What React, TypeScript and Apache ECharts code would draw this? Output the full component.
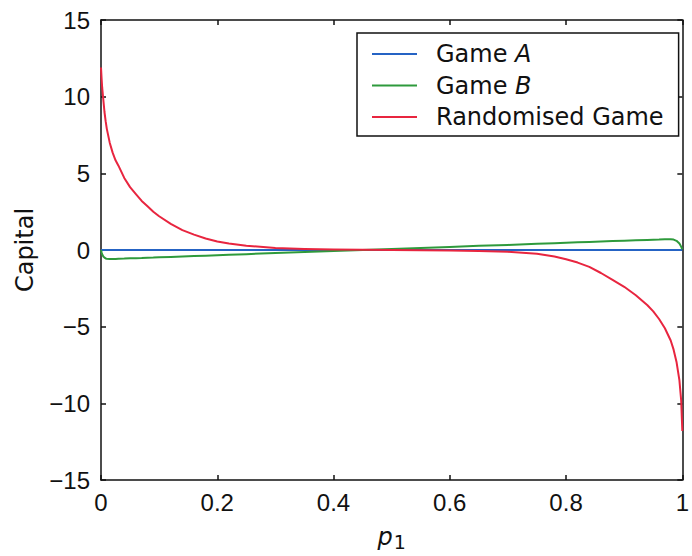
import React, { useEffect, useRef } from "react";
import * as echarts from "echarts";

const pValues = [0, 0.001, 0.002, 0.004, 0.006, 0.008, 0.01, 0.015, 0.02, 0.025, 0.03, 0.04, 0.05, 0.06, 0.07, 0.08, 0.09, 0.1, 0.12, 0.14, 0.16, 0.18, 0.2, 0.22, 0.25, 0.3, 0.35, 0.4, 0.45, 0.5, 0.55, 0.6, 0.65, 0.7, 0.75, 0.78, 0.8, 0.82, 0.84, 0.86, 0.88, 0.9, 0.92, 0.94, 0.95, 0.96, 0.97, 0.98, 0.985, 0.99, 0.995, 0.998, 1];

const gameA = [0, 0, 0, 0, 0, 0, 0, 0, 0, 0, 0, 0, 0, 0, 0, 0, 0, 0, 0, 0, 0, 0, 0, 0, 0, 0, 0, 0, 0, 0, 0, 0, 0, 0, 0, 0, 0, 0, 0, 0, 0, 0, 0, 0, 0, 0, 0, 0, 0, 0, 0, 0, 0];

const gameB = [0, -0.15, -0.28, -0.42, -0.5, -0.55, -0.57, -0.59, -0.58, -0.58, -0.57, -0.56, -0.54, -0.53, -0.52, -0.5, -0.49, -0.47, -0.45, -0.42, -0.39, -0.37, -0.34, -0.31, -0.27, -0.2, -0.13, -0.07, 0, 0.06, 0.13, 0.2, 0.27, 0.33, 0.4, 0.44, 0.47, 0.5, 0.52, 0.55, 0.58, 0.6, 0.63, 0.66, 0.67, 0.68, 0.7, 0.7, 0.68, 0.6, 0.42, 0.22, 0.05];

const randomised = [11.9, 11.2, 10.6, 9.8, 9.0, 8.4, 7.9, 7.0, 6.35, 5.85, 5.5, 4.7, 4.1, 3.65, 3.2, 2.85, 2.5, 2.2, 1.7, 1.3, 1.0, 0.75, 0.55, 0.42, 0.28, 0.13, 0.06, 0.03, 0.01, 0, -0.01, -0.03, -0.06, -0.12, -0.24, -0.42, -0.6, -0.82, -1.1, -1.5, -1.95, -2.4, -2.95, -3.6, -4.0, -4.5, -5.1, -5.9, -6.5, -7.3, -8.5, -9.8, -11.8];

const seriesNames = ["Game A", "Game B", "Randomised Game"];
const seriesColors = ["#2563c4", "#2e9a3c", "#e8253f"];
const xTicks = { min: 0, max: 1, interval: 0.2 };
const yTicks = { min: -15, max: 15, interval: 5 };

const pair = (ys: number[]) => pValues.map((p, i) => [p, ys[i]]);

export default function App() {
  const ref = useRef<HTMLDivElement>(null);
  useEffect(() => {
    if (!ref.current) return;
    const chart = echarts.init(ref.current, null, { renderer: "svg" });
    const tickFont = { fontFamily: "Liberation Sans", fontSize: 24, color: "#111" };
    const lineStyle = { color: "#111", width: 1.5 };
    const fmtX = (v: number) => (v === 0 ? "0" : v === 1 ? "1" : v.toFixed(1));
    const fmtY = (v: number) => (v < 0 ? "\u2212" + Math.abs(v) : String(v));
    const allData = [gameA, gameB, randomised];
    chart.setOption({
      animation: false,
      grid: { left: 101, top: 20, width: 589, height: 464, containLabel: false },
      legend: {
        show: true,
        orient: "vertical",
        left: 357,
        top: 33,
        padding: [9, 15, 7, 15],
        borderColor: "#111",
        borderWidth: 1.5,
        backgroundColor: "#fff",
        icon: "rect",
        itemWidth: 45,
        itemHeight: 2,
        itemGap: 7.5,
        data: seriesNames,
        textStyle: {
          fontFamily: "DejaVu Sans",
          fontSize: 24,
          lineHeight: 22,
          color: "#111",
          padding: [0, 0, 0, 14],
          rich: {
            i: { fontFamily: "DejaVu Sans", fontStyle: "italic", fontSize: 24, lineHeight: 22, color: "#111" },
          },
        },
        formatter: (name: string) =>
          name === "Game A" ? "Game {i|A}" : name === "Game B" ? "Game {i|B}" : name,
      },
      xAxis: [
        {
          type: "value",
          ...xTicks,
          position: "bottom",
          name: "{p|p}{s|1}",
          nameLocation: "middle",
          nameGap: 42,
          nameTextStyle: {
            rich: {
              p: { fontFamily: "DejaVu Sans", fontStyle: "italic", fontSize: 24, color: "#111" },
              s: { fontFamily: "DejaVu Sans", fontSize: 19, color: "#111", padding: [10, 0, 0, 1] },
            },
          },
          axisLine: { show: true, onZero: false, lineStyle },
          axisTick: { show: true, inside: true, length: 5, lineStyle },
          axisLabel: { ...tickFont, margin: 10, formatter: fmtX },
          splitLine: { show: false },
        },
        {
          type: "value",
          ...xTicks,
          position: "top",
          axisLine: { show: true, onZero: false, lineStyle },
          axisTick: { show: true, inside: true, length: 5, lineStyle },
          axisLabel: { show: false },
          splitLine: { show: false },
        },
      ],
      yAxis: [
        {
          type: "value",
          ...yTicks,
          position: "left",
          name: "Capital",
          nameLocation: "middle",
          nameGap: 64,
          nameTextStyle: { fontFamily: "DejaVu Sans", fontSize: 24, color: "#111" },
          axisLine: { show: true, onZero: false, lineStyle },
          axisTick: { show: true, inside: true, length: 5, lineStyle },
          axisLabel: { ...tickFont, margin: 11, formatter: fmtY },
          splitLine: { show: false },
        },
        {
          type: "value",
          ...yTicks,
          position: "right",
          axisLine: { show: true, onZero: false, lineStyle },
          axisTick: { show: true, inside: true, length: 5, lineStyle },
          axisLabel: { show: false },
          splitLine: { show: false },
        },
      ],
      series: seriesNames.map((name, i) => ({
        name,
        type: "line",
        data: pair(allData[i]),
        showSymbol: false,
        symbol: "none",
        smooth: false,
        lineStyle: { color: seriesColors[i], width: 2, join: "round" },
        itemStyle: { color: seriesColors[i] },
        z: 2 + i,
      })),
    });
    return () => chart.dispose();
  }, []);
  return (
    <div
      ref={ref}
      style={{ position: "fixed", left: 0, top: 0, width: 692, height: 556, background: "#fff" }}
    />
  );
}
